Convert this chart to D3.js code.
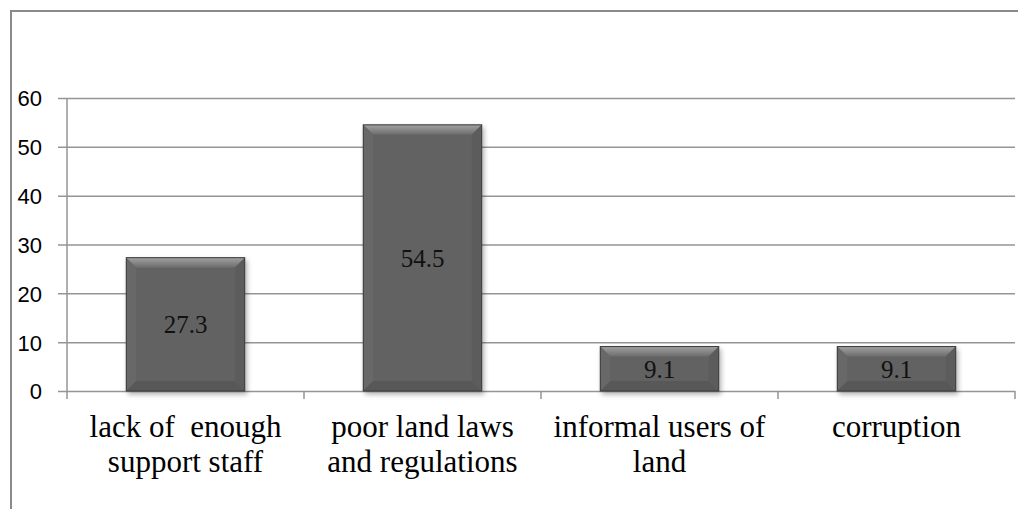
<!DOCTYPE html>
<html>
<head>
<meta charset="utf-8">
<script src="https://cdn.jsdelivr.net/npm/d3@7"></script>
<style>
  html, body { margin: 0; padding: 0; background: #fff; }
  svg { display: block; }
</style>
</head>
<body>
<div id="chart"></div>
<script>
// chart data
const categories = [
    ['lack of  enough', 'support staff'],
    ['poor land laws', 'and regulations'],
    ['informal users of', 'land'],
    ['corruption']
];
const values = [27.3, 54.5, 9.1, 9.1];
const yTicks = [0, 10, 20, 30, 40, 50, 60];

const WIDTH = 1018;
const HEIGHT = 509;
const PLOT = { left: 67, right: 1015, top: 98, bottom: 391 };
const BEVEL = 10;

const svg = d3.select('#chart')
    .append('svg')
    .attr('width', WIDTH)
    .attr('height', HEIGHT);

const defs = svg.append('defs');
defs.append('filter')
    .attr('id', 'bar-shadow')
    .attr('x', '-20%').attr('y', '-20%')
    .attr('width', '150%').attr('height', '150%')
    .append('feDropShadow')
    .attr('dx', 2).attr('dy', 3)
    .attr('stdDeviation', 2.5)
    .attr('flood-color', '#000')
    .attr('flood-opacity', 0.3);

const topGrad = defs.append('linearGradient')
    .attr('id', 'bevel-top')
    .attr('x1', '0%').attr('y1', '0%')
    .attr('x2', '0%').attr('y2', '100%');
topGrad.append('stop').attr('offset', '0%').attr('stop-color', '#a2a2a2');
topGrad.append('stop').attr('offset', '100%').attr('stop-color', '#6c6c6c');

// outer chart frame
svg.append('rect')
    .attr('x', 11).attr('y', 11)
    .attr('width', WIDTH + 20).attr('height', HEIGHT + 20)
    .attr('fill', 'none')
    .attr('stroke', '#8a8a8a')
    .attr('stroke-width', 2);

const x = d3.scaleBand()
    .domain(d3.range(values.length))
    .range([PLOT.left, PLOT.right])
    .paddingInner(0.5)
    .paddingOuter(0.25);

const y = d3.scaleLinear()
    .domain([0, 60])
    .range([PLOT.bottom, PLOT.top]);

// gridlines + y axis
const yAxis = d3.axisLeft(y)
    .tickValues(yTicks)
    .tickSize(-(PLOT.right - PLOT.left))
    .tickFormat(d3.format('d'));

const yAxisG = svg.append('g')
    .attr('transform', `translate(${PLOT.left},0)`)
    .call(yAxis);
yAxisG.select('.domain').remove();
yAxisG.selectAll('.tick line')
    .attr('x1', -9)
    .attr('stroke', '#959595')
    .attr('stroke-width', 1.5);
yAxisG.selectAll('.tick text')
    .attr('fill', '#000')
    .attr('x', -25)
    .attr('font-family', '"Liberation Sans", Arial, sans-serif')
    .attr('font-size', 22)
    .attr('dy', '0.36em');

svg.append('line')
    .attr('x1', PLOT.left).attr('x2', PLOT.left)
    .attr('y1', PLOT.top).attr('y2', PLOT.bottom + 8)
    .attr('stroke', '#959595')
    .attr('stroke-width', 1.5);

// category ticks on x axis
const catEdges = d3.range(values.length + 1).map(i => PLOT.left + i * (PLOT.right - PLOT.left) / values.length);
svg.append('g')
    .selectAll('line')
    .data(catEdges.slice(1))
    .join('line')
    .attr('x1', d => d).attr('x2', d => d)
    .attr('y1', PLOT.bottom).attr('y2', PLOT.bottom + 8)
    .attr('stroke', '#959595')
    .attr('stroke-width', 1.5);

// bars with bevel
const bars = svg.append('g')
    .selectAll('g')
    .data(values)
    .join('g')
    .attr('filter', 'url(#bar-shadow)');

bars.each(function (v, i) {
    const g = d3.select(this);
    const x0 = x(i), x1 = x(i) + x.bandwidth();
    const y0 = y(v), y1 = y(0);
    const b = Math.min(BEVEL, (y1 - y0) / 3);
    g.append('rect')
        .attr('x', x0).attr('y', y0)
        .attr('width', x1 - x0).attr('height', y1 - y0)
        .attr('fill', '#626262');
    g.append('polygon')
        .attr('points', [[x0, y0], [x1, y0], [x1 - b, y0 + b], [x0 + b, y0 + b]].join(' '))
        .attr('fill', 'url(#bevel-top)');
    g.append('polygon')
        .attr('points', [[x0, y0], [x0 + b, y0 + b], [x0 + b, y1 - b], [x0, y1]].join(' '))
        .attr('fill', '#676767');
    g.append('polygon')
        .attr('points', [[x1, y0], [x1 - b, y0 + b], [x1 - b, y1 - b], [x1, y1]].join(' '))
        .attr('fill', '#5c5c5c');
    g.append('polygon')
        .attr('points', [[x0, y1], [x0 + b, y1 - b], [x1 - b, y1 - b], [x1, y1]].join(' '))
        .attr('fill', '#585858');
    g.append('rect')
        .attr('x', x0).attr('y', y0)
        .attr('width', x1 - x0).attr('height', y1 - y0)
        .attr('fill', 'none')
        .attr('stroke', '#3a3a3a')
        .attr('stroke-width', 1);
});

// value labels centered in bars
svg.append('g')
    .selectAll('text')
    .data(values)
    .join('text')
    .attr('x', (d, i) => x(i) + x.bandwidth() / 2)
    .attr('y', d => (y(d) + y(0)) / 2)
    .attr('dy', '0.35em')
    .attr('text-anchor', 'middle')
    .style('font-family', '"Liberation Serif", "Times New Roman", serif')
    .style('font-size', '25px')
    .attr('fill', '#111')
    .text(d => d3.format('.1f')(d));

// category labels
const catLabels = svg.append('g')
    .selectAll('text')
    .data(categories)
    .join('text')
    .attr('x', (d, i) => x(i) + x.bandwidth() / 2)
    .attr('y', 437)
    .attr('text-anchor', 'middle')
    .style('font-family', '"Liberation Serif", "Times New Roman", serif')
    .style('font-size', '31px')
    .attr('fill', '#000');

catLabels.selectAll('tspan')
    .data(d => d)
    .join('tspan')
    .attr('x', function () { return d3.select(this.parentNode).attr('x'); })
    .attr('dy', (d, i) => i === 0 ? 0 : 35)
    .style('white-space', 'pre')
    .text(d => d);
</script>
</body>
</html>
